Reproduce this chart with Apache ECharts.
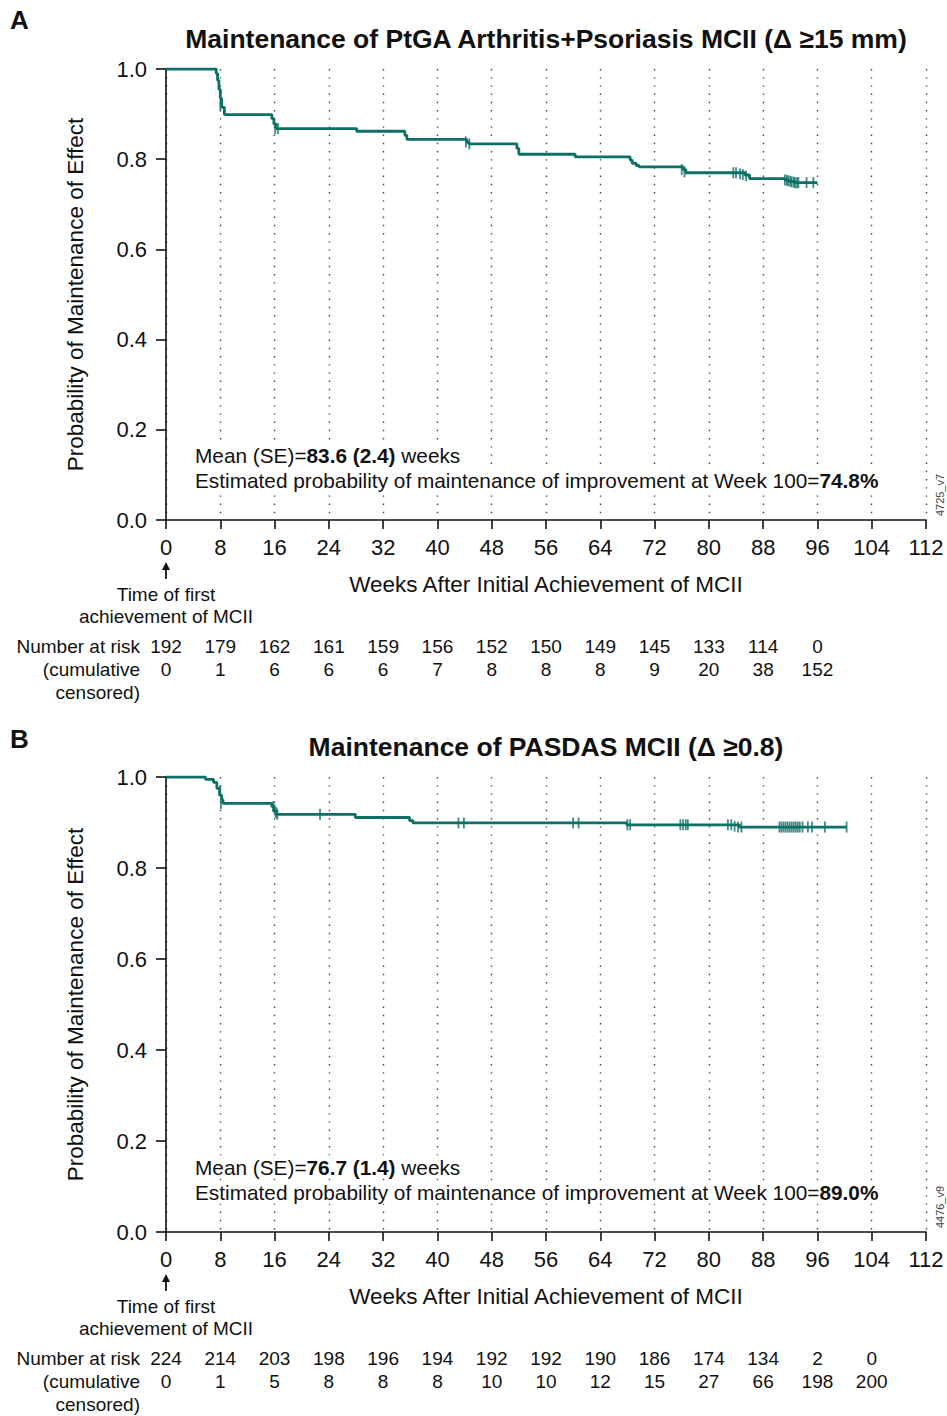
<!DOCTYPE html>
<html><head><meta charset="utf-8">
<script src="https://cdn.jsdelivr.net/npm/echarts@6/dist/echarts.min.js"></script>
<style>html,body{margin:0;padding:0;background:#fff}#c{width:947px;height:1416px}</style>
</head><body><div id="c"></div>
<script>
// ---------- data ----------
const xTicks = [0, 8, 16, 24, 32, 40, 48, 56, 64, 72, 80, 88, 96, 104, 112];
const yTicks = [0.0, 0.2, 0.4, 0.6, 0.8, 1.0];

const titleA = 'Maintenance of PtGA Arthritis+Psoriasis MCII (Δ ≥15 mm)';
const titleB = 'Maintenance of PASDAS MCII (Δ ≥0.8)';
const xName = 'Weeks After Initial Achievement of MCII';
const yName = 'Probability of Maintenance of Effect';

// Kaplan-Meier steps [week, survival]
const stepsA = [[0,1.0],[7.4,0.99],[7.6,0.975],[7.8,0.955],[8.0,0.935],[8.2,0.915],[8.6,0.899],
  [15.6,0.89],[15.9,0.878],[16.2,0.868],[28.1,0.862],[35.2,0.853],[35.5,0.844],[44.3,0.838],[44.6,0.834],
  [51.7,0.824],[52.0,0.811],[60.3,0.805],[68.4,0.798],[68.7,0.791],[69.3,0.786],[69.7,0.783],
  [76.2,0.777],[76.6,0.770],[85.3,0.765],[86.0,0.757],[91.2,0.754],[91.8,0.751],[92.6,0.748],[96.0,0.748]];
const censorA = [[8.0,0.92],[16.1,0.868],[16.5,0.868],[44.2,0.838],[44.7,0.834],[76.0,0.777],[76.4,0.772],
  [83.6,0.770],[84.0,0.770],[84.6,0.768],[85.0,0.766],[85.5,0.763],[91.2,0.754],[91.5,0.753],[91.7,0.752],
  [92.0,0.751],[92.2,0.750],[92.5,0.749],[92.7,0.748],[93.0,0.748],[93.2,0.748],[94.4,0.748],[95.4,0.748]];

const stepsB = [[0,1.0],[5.8,0.995],[7.0,0.988],[7.5,0.975],[7.9,0.96],[8.2,0.95],[8.4,0.942],
  [15.6,0.935],[15.9,0.925],[16.3,0.918],[27.9,0.911],[35.9,0.904],[36.4,0.899],[67.9,0.895],
  [84.5,0.890],[100.3,0.890]];
const censorB = [[8.0,0.97],[8.1,0.942],[15.8,0.935],[16.0,0.928],[16.2,0.922],[16.4,0.918],[22.7,0.918],
  [43.1,0.899],[43.9,0.899],[60.0,0.899],[60.8,0.899],[68.0,0.895],[68.4,0.895],[75.8,0.895],[76.2,0.895],
  [76.6,0.895],[76.9,0.895],[82.8,0.895],[83.3,0.895],[83.8,0.892],[84.3,0.890],[84.8,0.890],
  [90.4,0.890],[90.7,0.890],[91.0,0.890],[91.3,0.890],[91.6,0.890],[91.9,0.890],[92.2,0.890],[92.5,0.890],
  [92.8,0.890],[93.1,0.890],[93.4,0.890],[93.8,0.890],[94.6,0.890],[95.2,0.890],[97.1,0.890],[100.3,0.890]];

const riskWeeksA = [0, 8, 16, 24, 32, 40, 48, 56, 64, 72, 80, 88, 96];
const atRiskA = [192, 179, 162, 161, 159, 156, 152, 150, 149, 145, 133, 114, 0];
const cumCensA = [0, 1, 6, 6, 6, 7, 8, 8, 8, 9, 20, 38, 152];
const riskWeeksB = [0, 8, 16, 24, 32, 40, 48, 56, 64, 72, 80, 88, 96, 104];
const atRiskB = [224, 214, 203, 198, 196, 194, 192, 192, 190, 186, 174, 134, 2, 0];
const cumCensB = [0, 1, 5, 8, 8, 8, 10, 10, 12, 15, 27, 66, 198, 200];

const meanA = '83.6 (2.4)', probA = '74.8%', idA = '4725_v7';
const meanB = '76.7 (1.4)', probB = '89.0%', idB = '4476_v9';

// ---------- chart ----------
const FONT = 'Liberation Sans, Arial, Helvetica, sans-serif';
const TEAL = '#0d7066';
const INK = '#111';
const chart = echarts.init(document.getElementById('c'), null, {renderer: 'svg'});

function xAx(gi) {
  return {
    type: 'value', gridIndex: gi, min: 0, max: 112, interval: 8,
    axisLine: {show: true, lineStyle: {color: INK, width: 1.6}},
    axisTick: {show: true, length: 9, lineStyle: {color: INK, width: 1.6}},
    axisLabel: {fontSize: 22, color: INK, fontFamily: FONT, margin: 16},
    splitLine: {show: true, lineStyle: {color: '#444', width: 1.4, type: [1.4, 6.8]}},
    name: xName, nameLocation: 'middle', nameGap: 53,
    nameTextStyle: {fontSize: 22.5, color: INK, fontFamily: FONT}
  };
}
function yAx(gi) {
  return {
    type: 'value', gridIndex: gi, min: 0, max: 1, interval: 0.2,
    axisLine: {show: true, lineStyle: {color: INK, width: 1.6}},
    axisTick: {show: true, length: 10, lineStyle: {color: INK, width: 1.6}},
    axisLabel: {fontSize: 22, color: INK, fontFamily: FONT, margin: 19, formatter: v => v.toFixed(1)},
    splitLine: {show: false},
    name: yName, nameLocation: 'middle', nameGap: 79, nameRotate: 90,
    nameTextStyle: {fontSize: 22.5, color: INK, fontFamily: FONT}
  };
}
function stepSeries(gi, data) {
  return {type: 'line', xAxisIndex: gi, yAxisIndex: gi, step: 'end', data: data, showSymbol: false,
    symbol: 'none', lineStyle: {color: TEAL, width: 2.8}, z: 3};
}
function censorSeries(gi, data) {
  return {type: 'scatter', xAxisIndex: gi, yAxisIndex: gi, data: data, symbol: 'rect',
    symbolSize: [1.8, 11], itemStyle: {color: TEAL}, z: 4};
}

chart.setOption({
  animation: false,
  backgroundColor: '#fff',
  grid: [
    {left: 166, top: 69, width: 760, height: 451},
    {left: 166, top: 777, width: 760, height: 455}
  ],
  xAxis: [xAx(0), xAx(1)],
  yAxis: [yAx(0), yAx(1)],
  series: [stepSeries(0, stepsA), censorSeries(0, censorA), stepSeries(1, stepsB), censorSeries(1, censorB)]
});

function txt(x, y, text, opt) {
  opt = opt || {};
  return {type: 'text', x: x, y: y, rotation: opt.rotation || 0, z: 10, silent: true,
    style: Object.assign({text: text, fill: INK, fontSize: opt.fontSize || 19, fontFamily: FONT,
      fontWeight: opt.fontWeight || 'normal', align: opt.align || 'center', verticalAlign: 'middle'}, opt.style || {})};
}

function panelGraphics(gi, letter, letterY, title, mean, prob, id, weeks, risk, cens) {
  const g = [];
  const origin = chart.convertToPixel({gridIndex: gi}, [0, 0]);
  const topRight = chart.convertToPixel({gridIndex: gi}, [112, 1]);
  const x0 = origin[0], yb = origin[1], xr = topRight[0], yt = topRight[1];
  const cx = (x0 + xr) / 2;
  g.push(txt(10, letterY, letter, {fontSize: 26, fontWeight: 'bold', align: 'left'}));
  g.push(txt(cx, yt - 30, title, {fontSize: 26.5, fontWeight: 'bold'}));
  // annotation
  const rich = {
    n: {fontSize: 20.8, fontFamily: FONT, fill: INK},
    b: {fontSize: 20.8, fontFamily: FONT, fill: INK, fontWeight: 'bold'}
  };
  g.push(txt(x0 + 29, yb - 65, '{n|Mean (SE)=}{b|' + mean + '}{n| weeks}',
    {align: 'left', style: {rich: rich, backgroundColor: '#fff', padding: [1, 2, 1, 0]}}));
  g.push(txt(x0 + 29, yb - 40, '{n|Estimated probability of maintenance of improvement at Week 100=}{b|' + prob + '}',
    {align: 'left', style: {rich: rich, backgroundColor: '#fff', padding: [1, 2, 1, 0]}}));
  // id
  g.push(txt(xr + 14, yb - 25, id, {fontSize: 11, rotation: Math.PI / 2, style: {fill: '#444'}}));
  // arrow under origin
  g.push({type: 'line', silent: true, shape: {x1: x0, y1: yb + 48, x2: x0, y2: yb + 59},
    style: {stroke: INK, lineWidth: 1.8}});
  g.push({type: 'polygon', silent: true, shape: {points: [[x0, yb + 42], [x0 - 4, yb + 50], [x0 + 4, yb + 50]]},
    style: {fill: INK}});
  g.push(txt(x0, yb + 74, 'Time of first'));
  g.push(txt(x0, yb + 96, 'achievement of MCII'));
  // number at risk table
  const lx = x0 - 26;
  g.push(txt(lx, yb + 126, 'Number at risk', {align: 'right'}));
  g.push(txt(lx, yb + 149, '(cumulative', {align: 'right'}));
  g.push(txt(lx, yb + 172, 'censored)', {align: 'right'}));
  weeks.forEach((w, i) => {
    const px = chart.convertToPixel({gridIndex: gi}, [w, 0])[0];
    g.push(txt(px, yb + 126, String(risk[i])));
    g.push(txt(px, yb + 149, String(cens[i])));
  });
  return g;
}

chart.setOption({
  graphic: [].concat(
    panelGraphics(0, 'A', 20, titleA, meanA, probA, idA, riskWeeksA, atRiskA, cumCensA),
    panelGraphics(1, 'B', 739, titleB, meanB, probB, idB, riskWeeksB, atRiskB, cumCensB)
  )
});
</script>
</body></html>
